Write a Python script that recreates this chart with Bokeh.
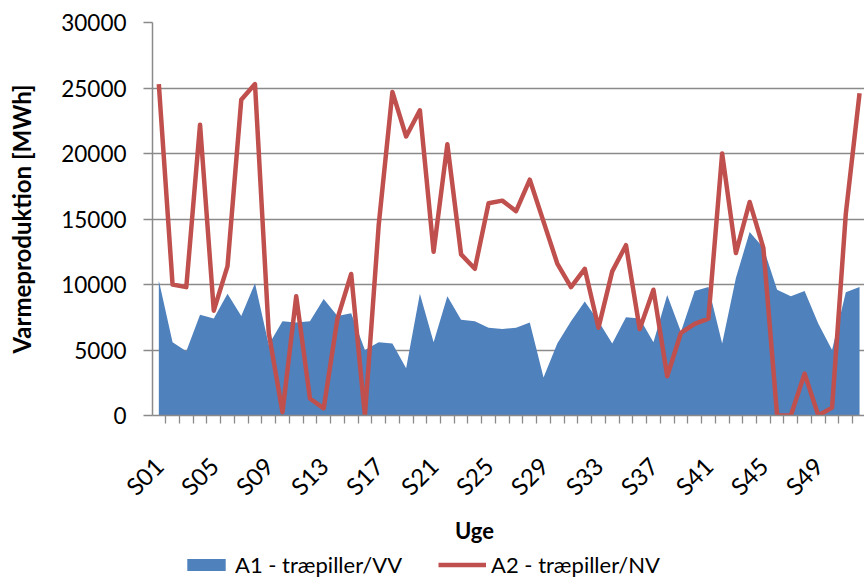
import math
from bokeh.plotting import figure
from bokeh.layouts import column
from bokeh.models import Range1d, FixedTicker, Legend, LegendItem, Label
from bokeh.embed import file_html
from bokeh.resources import INLINE

weeks = [f"S{i:02d}" for i in range(1, 53)]
label_weeks = ["S01", "S05", "S09", "S13", "S17", "S21", "S25", "S29",
               "S33", "S37", "S41", "S45", "S49"]

a1_vv = [10300, 5600, 4900, 7700, 7400, 9300, 7600, 10100, 5400, 7200,
         7100, 7200, 8900, 7600, 7800, 5000, 5600, 5500, 3600, 9300,
         5600, 9100, 7300, 7200, 6700, 6600, 6700, 7100, 2900, 5500,
         7200, 8700, 7200, 5500, 7500, 7400, 5600, 9200, 6400, 9500,
         9800, 5500, 10500, 14000, 12800, 9600, 9100, 9500, 7000, 5000,
         9400, 9800]

a2_nv = [25300, 10000, 9800, 22200, 8000, 11400, 24100, 25300, 6300, 250,
         9100, 1300, 550, 7400, 10800, 0, 14500, 24700, 21300, 23300,
         12500, 20700, 12300, 11200, 16200, 16400, 15600, 18000, 14800, 11600,
         9800, 11200, 6700, 11000, 13000, 6600, 9600, 3000, 6300, 7000,
         7400, 20000, 12400, 16300, 12800, 0, 0, 3200, 0, 600,
         15400, 24600]

y_ticks = [0, 5000, 10000, 15000, 20000, 25000, 30000]
series_names = ["A1 - træpiller/VV", "A2 - træpiller/NV"]
x_title = "Uge"
y_title = "Varmeproduktion [MWh]"

xs = list(range(1, len(weeks) + 1))
label_pos = [weeks.index(w) + 1 for w in label_weeks]

FONT = "Lato"
GRID = "#8a8a8a"
BLUE = "#4F81BD"
RED = "#C0504D"

# ---------------- main chart ----------------
p = figure(frame_width=712, frame_height=393, output_backend="svg",
           toolbar_location=None,
           x_range=Range1d(0.54, 52.36), y_range=Range1d(0, 30000),
           min_border_left=152, min_border_right=0, min_border_top=22,
           min_border_bottom=101)
p.outline_line_color = None
p.background_fill_color = "white"
p.border_fill_color = "white"

p.varea(x=xs, y1=[0] * len(xs), y2=a1_vv, fill_color=BLUE)
p.line(x=xs, y=a2_nv, line_color=RED, line_width=4.5, line_join="round")

xa = p.xaxis[0]
xa.ticker = FixedTicker(ticks=label_pos,
                        minor_ticks=[i + 0.5 for i in range(0, len(weeks) + 1)])
xa.major_label_overrides = {pos: w for pos, w in zip(label_pos, label_weeks)}
xa.major_label_orientation = math.pi / 4
xa.major_tick_line_color = None
xa.major_tick_out = 8
xa.minor_tick_out = 8
xa.minor_tick_in = 0
xa.minor_tick_line_color = GRID
xa.minor_tick_line_width = 1.3
xa.axis_line_color = GRID
xa.axis_line_width = 1.5
xa.major_label_text_font = FONT
xa.major_label_text_font_size = "24px"
xa.major_label_text_color = "black"
xa.major_label_standoff = 38
p.xgrid.visible = False

ya = p.yaxis[0]
ya.ticker = FixedTicker(ticks=y_ticks)
ya.major_label_overrides = {t: str(t) for t in y_ticks}
ya.minor_tick_line_color = None
ya.major_tick_out = 9
ya.major_tick_in = 0
ya.major_tick_line_color = GRID
ya.major_tick_line_width = 1.3
ya.axis_line_color = GRID
ya.axis_line_width = 1.5
ya.major_label_text_font = FONT
ya.major_label_text_font_size = "22.5px"
ya.major_label_text_color = "black"
ya.major_label_standoff = 17
ya.axis_label = y_title
ya.axis_label_text_font = FONT
ya.axis_label_text_font_size = "24px"
ya.axis_label_text_font_style = "bold"
ya.axis_label_text_color = "black"
ya.axis_label_standoff = 22
p.ygrid.grid_line_color = GRID
p.ygrid.grid_line_width = 1.3
p.ygrid.ticker = FixedTicker(ticks=y_ticks)

# ---------------- x title + legend strip ----------------
# (the column aligns this strip's frame with the chart frame, x = 152 px)
lf = figure(width=864, height=62, output_backend="svg", toolbar_location=None,
            x_range=Range1d(0.54, 52.36), y_range=Range1d(0, 30000),
            x_axis_location=None, y_axis_location=None,
            min_border_left=0, min_border_right=0, min_border_top=0,
            min_border_bottom=0)
lf.outline_line_color = None
lf.xgrid.visible = False
lf.ygrid.visible = False
lf.background_fill_color = "white"
lf.border_fill_color = "white"

r1 = lf.varea(x=xs, y1=[0] * len(xs), y2=a1_vv, fill_color=BLUE, visible=False)
r2 = lf.line(x=xs, y=a2_nv, line_color=RED, line_width=4.5, visible=False)

lf.add_layout(Label(x=322, y=48, x_units="screen", y_units="screen",
                    text=x_title, text_align="center", text_baseline="middle",
                    text_font=FONT, text_font_size="22px",
                    text_font_style="bold", text_color="black"))

legend = Legend(items=[LegendItem(label=series_names[0], renderers=[r1]),
                       LegendItem(label=series_names[1], renderers=[r2])],
                orientation="horizontal", location=(30, 0),
                glyph_width=48, glyph_height=15, label_standoff=5,
                spacing=36, padding=0, margin=0,
                label_text_font=FONT, label_text_font_size="22px",
                label_text_color="black",
                inactive_fill_alpha=0,
                border_line_color=None, background_fill_alpha=0)
lf.add_layout(legend, "center")

layout = column(p, lf, spacing=0)
open("out.html", "w").write(file_html(layout, INLINE))
